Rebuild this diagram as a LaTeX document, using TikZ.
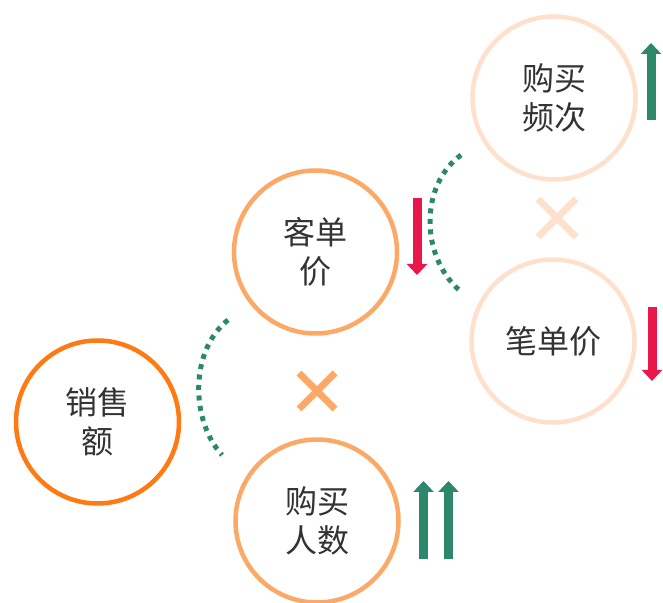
\documentclass[tikz,border=0pt]{standalone}
\usepackage{fontspec}
\setmainfont{Noto Sans CJK SC}
\usetikzlibrary{arrows.meta}
\usetikzlibrary{shapes}

\definecolor{deeporange}{HTML}{FF7A12}
\definecolor{midorange}{HTML}{FCA968}
\definecolor{peach}{HTML}{FEE0CC}
\definecolor{upgreen}{HTML}{2C876B}
\definecolor{downred}{HTML}{E8194A}
\definecolor{textgray}{HTML}{333333}

\tikzset{
  ring/.style={circle,draw,line width=4.5bp,minimum size=163bp,inner sep=0pt,
    align=center,text=textgray,font=\fontsize{32bp}{39bp}\selectfont},
  dotarc/.style={upgreen,line width=5bp,dash pattern=on 5bp off 5.5bp},
  timesmark/.style={line width=7bp},
  uparrow/.style={upgreen,line width=9bp,-{Triangle[width=20bp,length=11bp]}},
  downarrow/.style={downred,line width=9bp,-{Triangle[width=20bp,length=11bp]}},
}

\begin{document}
\begin{tikzpicture}[>=latex,line join=miter,]
\useasboundingbox (0bp,0bp) rectangle (663bp,603bp);
%%
\node (node_0) at (97.5bp,181bp) [ring,draw=deeporange] {销售\\额};
  \node (node_1) at (315.5bp,351bp) [ring,draw=midorange] {客单\\价};
  \node (node_2) at (317bp,82bp) [ring,draw=midorange] {购买\\人数};
  \node (node_3) at (554bp,505bp) [ring,draw=peach] {购买\\频次};
  \node (node_4) at (553bp,262bp) [ring,draw=peach] {笔单价};
%
  \coordinate (arc_0a) at (228bp,283bp);
  \coordinate (arc_0b) at (222bp,148bp);
  \coordinate (arc_1a) at (461bp,448bp);
  \coordinate (arc_1b) at (459bp,313bp);
  \draw [dotarc] (arc_0a) ..controls (190bp,253bp) and (190bp,183bp)  .. (arc_0b);
  \draw [dotarc] (arc_1a) ..controls (420bp,418bp) and (420bp,348bp)  .. (arc_1b);
%
  \coordinate (times_0) at (317bp,212bp);
  \coordinate (times_1) at (557bp,385bp);
  \draw [timesmark,midorange] ([shift={(-18bp,-18bp)}]times_0) -- ([shift={(18bp,18bp)}]times_0);
  \draw [timesmark,midorange] ([shift={(-18bp,18bp)}]times_0) -- ([shift={(18bp,-18bp)}]times_0);
  \draw [timesmark,peach] ([shift={(-19bp,-19bp)}]times_1) -- ([shift={(19bp,19bp)}]times_1);
  \draw [timesmark,peach] ([shift={(-19bp,19bp)}]times_1) -- ([shift={(19bp,-19bp)}]times_1);
%
  \coordinate (up_0a) at (423.5bp,44bp);
  \coordinate (up_0b) at (423.5bp,122bp);
  \coordinate (up_1a) at (448.5bp,44bp);
  \coordinate (up_1b) at (448.5bp,122bp);
  \coordinate (up_2a) at (651bp,483bp);
  \coordinate (up_2b) at (651bp,560bp);
  \coordinate (down_0a) at (417bp,405bp);
  \coordinate (down_0b) at (417bp,328bp);
  \coordinate (down_1a) at (652bp,296bp);
  \coordinate (down_1b) at (652bp,222bp);
  \draw [uparrow] (up_0a) -- (up_0b);
  \draw [uparrow] (up_1a) -- (up_1b);
  \draw [uparrow] (up_2a) -- (up_2b);
  \draw [downarrow] (down_0a) -- (down_0b);
  \draw [downarrow] (down_1a) -- (down_1b);
%
\end{tikzpicture}
\end{document}
